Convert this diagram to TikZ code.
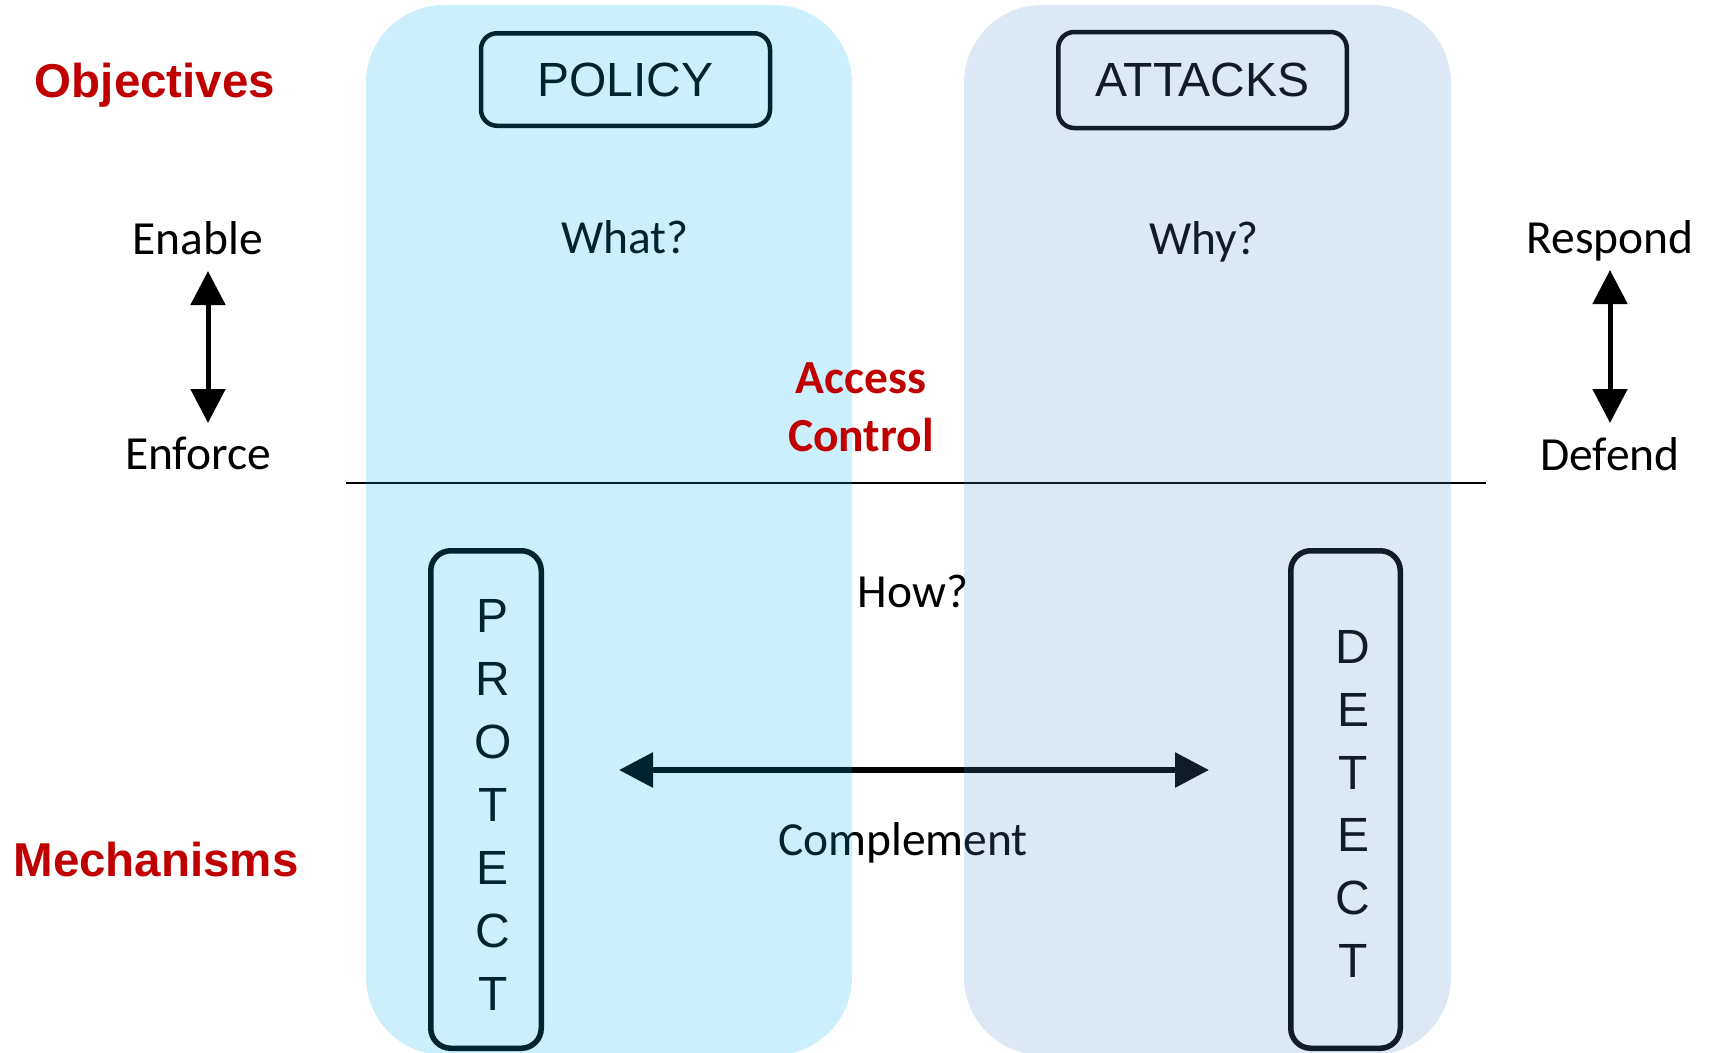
\documentclass[tikz,border=0pt]{standalone}
\usepackage{fontspec}
\setmainfont{Carlito}
\newfontfamily\arialfont{Liberation Sans}
\usetikzlibrary{arrows.meta}
\definecolor{objred}{RGB}{192,0,0}
\definecolor{lpanel}{RGB}{0,176,240}
\definecolor{rpanel}{RGB}{85,140,205}
\begin{document}
\begin{tikzpicture}[x=1pt,y=-1pt,
  lbl/.style={anchor=base,inner sep=0pt,font=\fontsize{47.5}{57}\selectfont},
  head/.style={anchor=base,inner sep=0pt,text=objred,font=\arialfont\bfseries\fontsize{47.5}{57}\selectfont},
  redlbl/.style={anchor=base,inner sep=0pt,text=objred,font=\bfseries\fontsize{47.5}{57}\selectfont},
  titlebox/.style={draw=black,line width=4.5pt,rounded corners=16pt,inner sep=0pt,font=\arialfont\fontsize{48}{58}\selectfont},
  letter/.style={inner sep=0pt,font=\arialfont\fontsize{48}{58}\selectfont},
  vbox/.style={draw=black,line width=5.5pt,rounded corners=20pt,inner sep=0pt},
  panel/.style={rounded corners=78pt,fill opacity=0.2},
  dblarrow/.style={line width=5pt,{Triangle[length=34pt,width=34pt]}-{Triangle[length=34pt,width=34pt]}},
]
\useasboundingbox (0,0) rectangle (1713,1052);

% labels outside the panels
\node[head] (obj) at (155,97) {Objectives};
\node[head] (mech) at (156,876) {Mechanisms};
\node[lbl] (enable) at (198,254) {Enable};
\node[lbl] (enforce) at (198,469) {Enforce};
\node[lbl] (respond) at (1610,253) {Respond};
\node[lbl] (defend) at (1610,470) {Defend};
\coordinate (ea) at (208,271);
\coordinate (eb) at (208,423);
\draw[dblarrow] (ea) -- (eb);
\coordinate (ra) at (1610,270);
\coordinate (rb) at (1610,423);
\draw[dblarrow] (ra) -- (rb);

% content below the translucent panels
\coordinate (hl) at (346,483);
\coordinate (hr) at (1486,483);
\draw[line width=2pt] (hl) -- (hr);
\node[titlebox,minimum width=289pt,minimum height=92.5pt] (policy) at (625.5,79.5) {POLICY};
\node[titlebox,minimum width=288.5pt,minimum height=96pt] (attacks) at (1202.5,80) {ATTACKS};
\node[lbl] (what) at (625,253) {What?};
\node[lbl] (why) at (1204,254) {Why?};
\node[lbl] (how) at (913,607) {How?};
\node[lbl] (compl) at (903,855) {Complement};
\node[vbox,minimum width=110.5pt,minimum height=497.5pt] (protect) at (486,799.5) {};
\foreach \l [count=\i from 0] in {P,R,O,T,E,C,T}
  \node[letter] (p\i) at (493,{616+63*\i}) {\l};
\node[vbox,minimum width=109.5pt,minimum height=497.5pt] (detect) at (1345.5,799.5) {};
\foreach \l [count=\i from 0] in {D,E,T,E,C,T}
  \node[letter] (d\i) at (1353,{647+62.8*\i}) {\l};
\coordinate (cl) at (619,770);
\coordinate (cr) at (1209,770);
\draw[dblarrow,line width=6pt] (cl) -- (cr);

% translucent panels
\fill[lpanel,panel] (366,5) rectangle (852,1055);
\fill[rpanel,panel] (964,5) rectangle (1451,1055);

% text above the panels
\node[redlbl] (access) at (861,393) {Access};
\node[redlbl] (control) at (861,451) {Control};
\end{tikzpicture}
\end{document}
